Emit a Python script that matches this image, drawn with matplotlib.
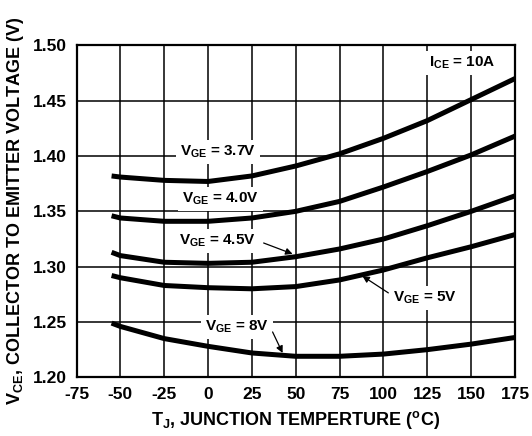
import numpy as np
import matplotlib
matplotlib.use("Agg")
import matplotlib.pyplot as plt

plt.rcParams['font.family'] = ['Liberation Sans', 'DejaVu Sans']
plt.rcParams['font.weight'] = 'bold'
plt.rcParams['axes.labelweight'] = 'bold'
plt.rcParams['axes.unicode_minus'] = False
plt.rcParams['mathtext.fontset'] = 'custom'
plt.rcParams['mathtext.rm'] = 'Liberation Sans:bold'
plt.rcParams['mathtext.it'] = 'Liberation Sans:bold'
plt.rcParams['mathtext.bf'] = 'Liberation Sans:bold'
plt.rcParams['mathtext.default'] = 'rm'

# junction temperature (C)
tj = [-55, -50, -25, 0, 25, 50, 75, 100, 125, 150, 175]

# VCE (V), one per gate voltage
vce_37 = [1.382, 1.381, 1.378, 1.377, 1.382, 1.391, 1.402, 1.416, 1.432, 1.451, 1.470]
vce_40 = [1.346, 1.344, 1.341, 1.341, 1.344, 1.350, 1.359, 1.372, 1.386, 1.401, 1.418]
vce_45 = [1.313, 1.310, 1.304, 1.303, 1.304, 1.309, 1.316, 1.325, 1.337, 1.350, 1.364]
vce_50 = [1.292, 1.290, 1.283, 1.281, 1.280, 1.282, 1.288, 1.297, 1.308, 1.318, 1.329]
vce_80 = [1.249, 1.246, 1.235, 1.228, 1.222, 1.219, 1.219, 1.221, 1.225, 1.230, 1.236]

xticks = [-75, -50, -25, 0, 25, 50, 75, 100, 125, 150, 175]
yticks = [1.20, 1.25, 1.30, 1.35, 1.40, 1.45, 1.50]

fig = plt.figure(figsize=(5.32, 4.36), dpi=100)
ax = fig.add_axes([0.1438, 0.1346, 0.8242, 0.7613])

for v in [vce_37, vce_40, vce_45, vce_50, vce_80]:
    ax.plot(tj, v, color='black', lw=3.6, solid_capstyle='butt',
            solid_joinstyle='round', zorder=3)

ax.set_xlim(-75, 175)
ax.set_ylim(1.20, 1.50)
ax.set_xticks(xticks)
ax.set_xticklabels([str(x) for x in xticks], fontweight='bold')
ax.set_yticks(yticks)
ax.set_yticklabels(['%.2f' % y for y in yticks], fontweight='bold')
ax.tick_params(length=0, labelsize=12.5, pad=7)
ax.grid(True, color='black', lw=1.1)
for s in ax.spines.values():
    s.set_linewidth(1.6)

ax.set_xlabel(r'T$_J$, JUNCTION TEMPERTURE ($^o$C)', fontsize=13,
              fontweight='bold', labelpad=5)
ax.set_ylabel(r'V$_{CE}$, COLLECTOR TO EMITTER VOLTAGE (V)', fontsize=13,
              fontweight='bold', labelpad=5)

box = dict(fc='white', ec='none', pad=3)
tkw = dict(fontsize=11, fontweight='bold', ha='center', va='center', bbox=box, zorder=4)
ax.text(5.5, 1.4037, r'V$_{GE}$ = 3.7V', **tkw)
ax.text(7.2, 1.3612, r'V$_{GE}$ = 4.0V', **tkw)
ax.text(5.5, 1.3232, r'V$_{GE}$ = 4.5V', **tkw)
ax.text(16.5, 1.2456, r'V$_{GE}$ = 8V', **tkw)
ax.text(124, 1.2717, r'V$_{GE}$ = 5V', **tkw)
ax.text(145, 1.4842, r'I$_{CE}$ = 10A', **tkw)

akw = dict(arrowstyle='-|>', color='black', lw=0.9, mutation_scale=10,
           shrinkA=0, shrinkB=0)
ax.annotate('', xy=(48.2, 1.3115), xytext=(31.7, 1.3214), arrowprops=akw, zorder=5)
ax.annotate('', xy=(42.5, 1.222), xytext=(36.8, 1.241), arrowprops=akw, zorder=5)
ax.annotate('', xy=(88, 1.2916), xytext=(102.8, 1.2763), arrowprops=akw, zorder=5)

fig.savefig('out.png', dpi=100)
